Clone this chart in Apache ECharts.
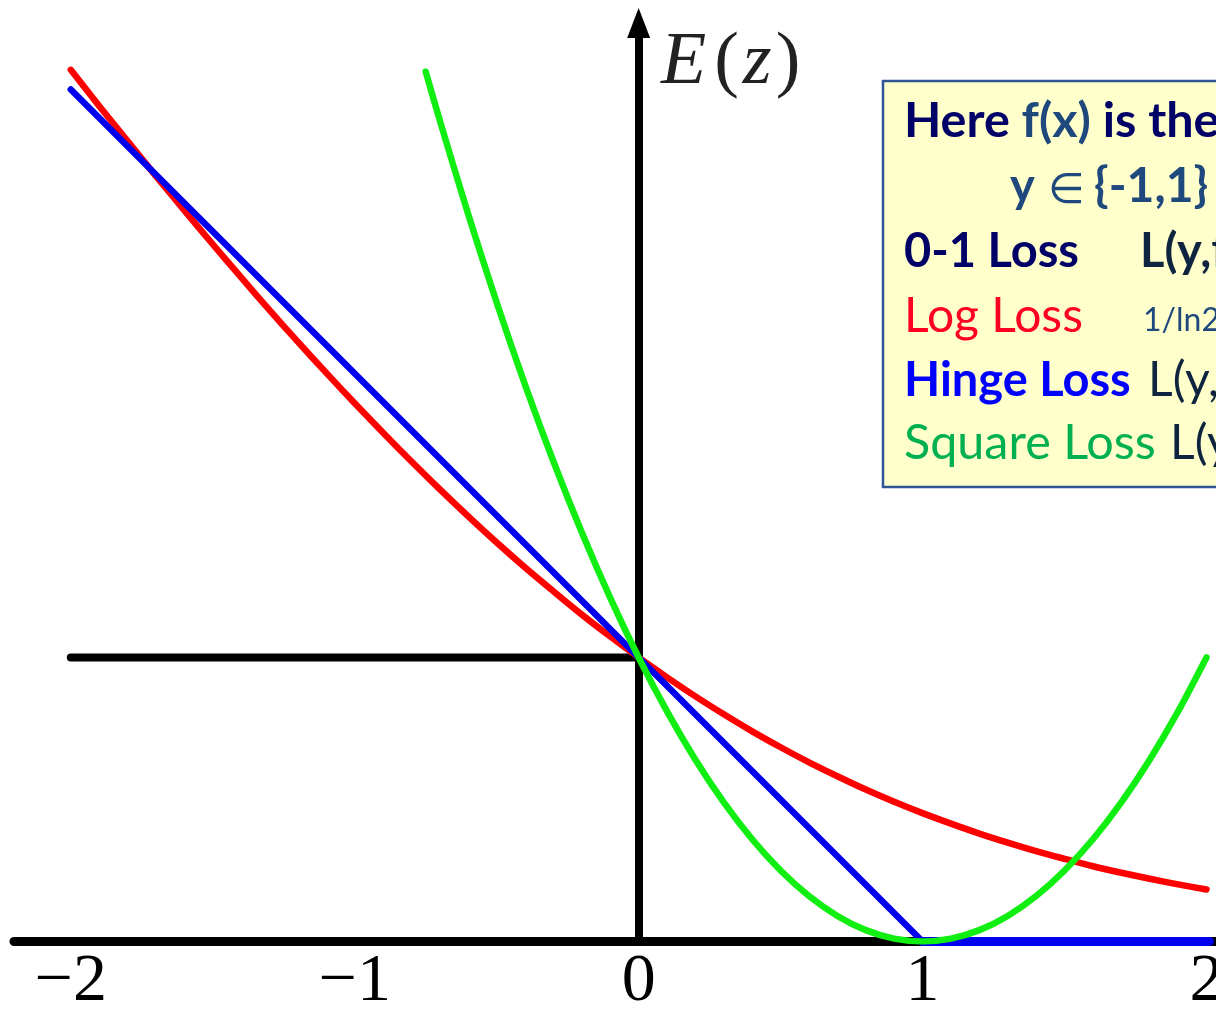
<!DOCTYPE html>
<html>
<head>
<meta charset="utf-8">
<title>Loss functions E(z)</title>
<script src="https://cdn.jsdelivr.net/npm/echarts@6/dist/echarts.min.js"></script>
<style>
  html, body { margin: 0; padding: 0; background: #ffffff; }
  #chart { width: 1216px; height: 1009px; }
</style>
</head>
<body>
<div id="chart"></div>
<script>
// Margin z on the horizontal axis, loss E(z) on the vertical axis.
const tickValues = [-2, -1, 0, 1, 2];

// 0-1 loss: constant 1 for z < 0 (the z >= 0 part lies on the horizontal axis)
const zeroOneZ = [-2, 0];
const zeroOneLoss = [1, 1];

// Log loss, sampled every 0.1
const logZ = [-2.0, -1.9, -1.8, -1.7, -1.6, -1.5, -1.4, -1.3, -1.2, -1.1,
              -1.0, -0.9, -0.8, -0.7, -0.6, -0.5, -0.4, -0.3, -0.2, -0.1,
               0.0, 0.1, 0.2, 0.3, 0.4, 0.5, 0.6, 0.7, 0.8, 0.9,
               1.0, 1.1, 1.2, 1.3, 1.4, 1.5, 1.6, 1.7, 1.8, 1.9, 2.0];
const logLoss = [3.069, 2.942, 2.818, 2.695, 2.574, 2.455, 2.338, 2.223, 2.111, 2.002,
                 1.895, 1.791, 1.690, 1.592, 1.497, 1.405, 1.317, 1.233, 1.151, 1.074,
                 1.000, 0.930, 0.863, 0.800, 0.740, 0.684, 0.631, 0.582, 0.535, 0.492,
                 0.452, 0.415, 0.380, 0.348, 0.318, 0.291, 0.265, 0.242, 0.221, 0.201, 0.183];

// Hinge loss: corner at z = 1, flat afterwards
const hingeZ = [-2, 1, 2.01];
const hingeLoss = [3, 0, 0];

// Square loss, sampled every 0.1
const squareZ = [-0.75, -0.7, -0.6, -0.5, -0.4, -0.3, -0.2, -0.1,
                  0.0, 0.1, 0.2, 0.3, 0.4, 0.5, 0.6, 0.7, 0.8, 0.9,
                  1.0, 1.1, 1.2, 1.3, 1.4, 1.5, 1.6, 1.7, 1.8, 1.9, 2.0];
const squareLoss = [3.0625, 2.89, 2.56, 2.25, 1.96, 1.69, 1.44, 1.21,
                    1.00, 0.81, 0.64, 0.49, 0.36, 0.25, 0.16, 0.09, 0.04, 0.01,
                    0.00, 0.01, 0.04, 0.09, 0.16, 0.25, 0.36, 0.49, 0.64, 0.81, 1.00];

const pairs = (xs, ys) => xs.map((x, i) => [x, ys[i]]);
const hingeFlat = pairs(hingeZ, hingeLoss).filter(p => p[1] === 0);

const TEXT_FONT = 'Lato, "Open Sans", sans-serif';
const boxLeft = 883, boxTop = 81, boxBottom = 487;

const chart = echarts.init(document.getElementById('chart'), null, { renderer: 'canvas' });

function curve(name, data, color, width, smooth, z) {
  return {
    name: name,
    type: 'line',
    data: data,
    smooth: smooth,
    symbol: 'none',
    silent: true,
    z: z,
    lineStyle: { color: color, width: width, cap: 'round', join: 'round' }
  };
}

function label(x, y, text, font, fill) {
  return {
    type: 'text', z: 21, x: x, y: y,
    style: { text: text, verticalAlign: 'middle', font: font, fill: fill }
  };
}

chart.setOption({
  backgroundColor: '#ffffff',
  animation: false,
  grid: { left: 14, right: 1, top: 23, bottom: 67.5, containLabel: false, outerBoundsMode: 'none' },
  xAxis: {
    type: 'value',
    min: -2.2,
    max: 2.03,
    axisLine: {
      show: true,
      onZero: false,
      lineStyle: { color: '#000000', width: 9, cap: 'round' }
    },
    axisTick: { show: false },
    splitLine: { show: false },
    axisLabel: {
      show: true,
      customValues: tickValues,
      margin: 7,
      color: '#000000',
      fontFamily: '"Liberation Serif", "DejaVu Serif", serif',
      fontSize: 68,
      formatter: v => (v < 0 ? '\u2212' + Math.abs(v) : String(v))
    }
  },
  yAxis: {
    type: 'value',
    min: 0,
    max: 3.234,
    axisLine: {
      show: true,
      onZero: true,
      symbol: ['none', 'triangle'],
      symbolSize: [23, 30],
      lineStyle: { color: '#000000', width: 8 }
    },
    axisTick: { show: false },
    axisLabel: { show: false },
    splitLine: { show: false }
  },
  series: [
    curve('0-1 Loss', pairs(zeroOneZ, zeroOneLoss), '#000000', 8, false, 2),
    curve('Log Loss', pairs(logZ, logLoss), '#ff0000', 6.5, 0.3, 3),
    curve('Hinge Loss', pairs(hingeZ, hingeLoss), '#0000ee', 6.5, false, 4),
    curve('Hinge Loss (flat)', hingeFlat, '#0000ee', 9, false, 4),
    curve('Square Loss', pairs(squareZ, squareLoss), '#11ee11', 6.5, 0.3, 5)
  ],
  graphic: [
    {
      type: 'text',
      x: 661, y: 64,
      z: 10,
      style: {
        text: '{i|E}{p|(}{i|z}{q|)}',
        verticalAlign: 'middle',
        fill: '#000000',
        rich: {
          i: { fontFamily: '"Liberation Serif", serif', fontStyle: 'italic', fontSize: 74, fill: '#222222' },
          p: { fontFamily: '"Liberation Serif", serif', fontSize: 74, fill: '#222222', padding: [0, 4, 0, 8] },
          q: { fontFamily: '"Liberation Serif", serif', fontSize: 74, fill: '#222222', padding: [0, 0, 0, 4] }
        }
      }
    },
    {
      type: 'rect',
      z: 20,
      shape: { x: boxLeft, y: boxTop, width: 400, height: boxBottom - boxTop },
      style: { fill: '#ffffcc', stroke: '#2f5597', lineWidth: 2.5 }
    },
    {
      type: 'text', z: 21, x: 904, y: 121.5,
      style: {
        text: '{a|Here }{b|f(x)}{a| is the prediction}',
        verticalAlign: 'middle',
        rich: {
          a: { fontFamily: TEXT_FONT, fontWeight: 'bold', fontSize: 48.5, fill: '#000066' },
          b: { fontFamily: TEXT_FONT, fontWeight: 'bold', fontSize: 48.5, fill: '#1f497d' }
        }
      }
    },
    label(1010, 186.5, 'y', 'bold 47px ' + TEXT_FONT, '#1f497d'),
    label(1048, 192, '\u2208', '42px "DejaVu Sans", sans-serif', '#1f497d'),
    label(1094, 186.5, '{-1,1}', 'bold 48px ' + TEXT_FONT, '#1f497d'),
    label(904, 251.5, '0-1 Loss', 'bold 47px ' + TEXT_FONT, '#000066'),
    label(1140, 251.5, 'L(y,f(x))', 'bold 47px ' + TEXT_FONT, '#0f243e'),
    label(904, 316.5, 'Log Loss', '48px ' + TEXT_FONT, '#ff0022'),
    label(1143, 321, '1/ln2 log(1+exp(-yf(x)))', '32px ' + TEXT_FONT, '#1f497d'),
    label(904, 380.5, 'Hinge Loss', 'bold 47px ' + TEXT_FONT, '#0000ff'),
    label(1148, 380.5, 'L(y,f(x))', '48px ' + TEXT_FONT, '#0f243e'),
    label(904, 443.5, 'Square Loss', '48.5px ' + TEXT_FONT, '#00b050'),
    label(1170, 443.5, 'L(y,f(x))', '48px ' + TEXT_FONT, '#0f243e')
  ]
});
</script>
</body>
</html>
